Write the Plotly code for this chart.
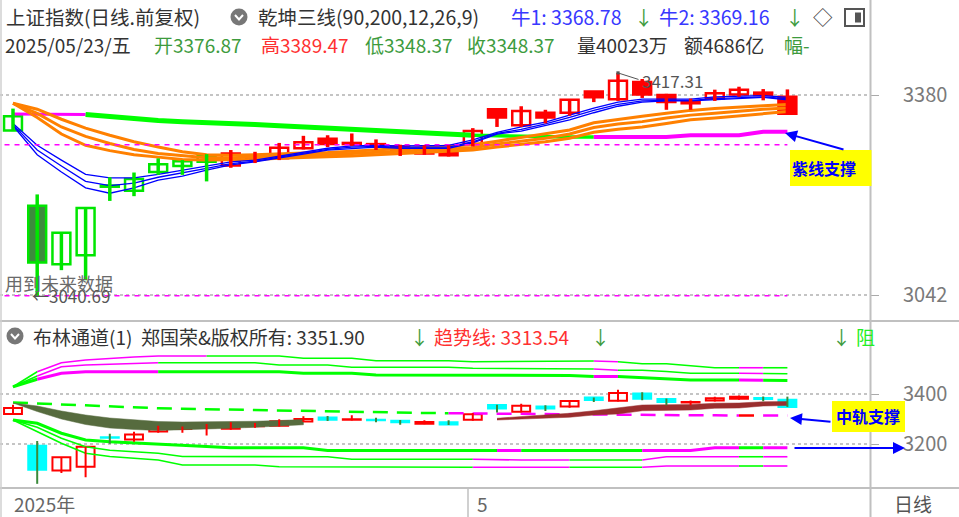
import plotly.graph_objects as go

# ---------------- data ----------------
dates = ["2025-04-03", "2025-04-07", "2025-04-08", "2025-04-09", "2025-04-10", "2025-04-11",
         "2025-04-14", "2025-04-15", "2025-04-16", "2025-04-17", "2025-04-18", "2025-04-21",
         "2025-04-22", "2025-04-23", "2025-04-24", "2025-04-25", "2025-04-28", "2025-04-29",
         "2025-04-30", "2025-05-06", "2025-05-07", "2025-05-08", "2025-05-09", "2025-05-12",
         "2025-05-13", "2025-05-14", "2025-05-15", "2025-05-16", "2025-05-19", "2025-05-20",
         "2025-05-21", "2025-05-22", "2025-05-23"]
open_p = [3320, 3193, 3094, 3109, 3227, 3218, 3250, 3260, 3267, 3261, 3271, 3273, 3290, 3306, 3297, 3297,
          3293, 3281, 3287, 3297, 3356, 3329, 3350, 3350, 3386, 3373, 3402, 3380, 3366, 3374, 3381, 3384, 3376.87]
high_p = [3357, 3212, 3148, 3189, 3241, 3249, 3273, 3270, 3280, 3287, 3284, 3299, 3311, 3312, 3315, 3305,
          3296, 3295, 3295, 3324, 3357, 3361, 3355, 3373, 3386, 3417.31, 3407, 3382, 3374, 3389, 3394, 3390, 3389.47]
low_p = [3319, 3040.69, 3084, 3067, 3201, 3209, 3245, 3245, 3234, 3257, 3265, 3270, 3288, 3292, 3294, 3287,
         3277, 3279, 3276, 3293, 3326, 3326, 3332, 3345, 3368, 3370, 3375, 3355, 3355, 3370, 3377, 3371, 3348.37]
close_p = [3344, 3097, 3147, 3189, 3225, 3238, 3263, 3268, 3277, 3281, 3277, 3291, 3300, 3297, 3299, 3295,
           3287, 3288, 3278, 3319, 3342, 3353, 3342, 3372, 3376, 3404, 3381, 3368, 3368, 3383, 3389, 3380, 3348.37]

# 乾坤三线 (top panel)
long_line = [3348, 3348, 3348, 3347, 3343, 3339, 3337, 3335, 3334, 3332, 3330, 3328, 3326, 3324, 3322, 3320,
             3318, 3316, 3314, 3312, 3311, 3310, 3310, 3309, 3309, 3309, 3309, 3309, 3312, 3312, 3312, 3318, 3318]
orange_1 = [3366, 3356, 3339, 3324, 3312, 3301, 3292, 3284, 3279, 3278, 3279, 3281, 3282, 3283, 3285, 3287,
            3289, 3291, 3293, 3296, 3302, 3308, 3314, 3321, 3333, 3339, 3344, 3349, 3354, 3357, 3360, 3362, 3364]
orange_2 = [3366, 3349, 3326, 3310, 3298, 3288, 3281, 3277, 3274, 3274, 3275, 3277, 3278, 3279, 3281, 3283,
            3285, 3287, 3289, 3291, 3297, 3302, 3307, 3314, 3325, 3331, 3335, 3341, 3346, 3349, 3353, 3356, 3358]
orange_3 = [3366, 3342, 3314, 3295, 3286, 3279, 3275, 3271, 3270, 3270, 3271, 3273, 3274, 3275, 3277, 3279,
            3281, 3283, 3285, 3287, 3292, 3296, 3301, 3307, 3317, 3322, 3326, 3332, 3338, 3341, 3345, 3349, 3352]
blue_1 = [3332, 3295, 3270, 3246, 3240, 3240, 3246, 3253, 3260, 3267, 3270, 3277, 3284, 3290, 3294, 3295,
          3294, 3294, 3295, 3304, 3317, 3326, 3334, 3346, 3358, 3368, 3373, 3373, 3373, 3377, 3378, 3379, 3376]
blue_2 = [3330, 3287, 3260, 3234, 3227, 3231, 3241, 3248, 3256, 3264, 3268, 3275, 3282, 3288, 3292, 3293,
          3292, 3292, 3292, 3301, 3315, 3322, 3331, 3342, 3354, 3364, 3370, 3371, 3371, 3374, 3376, 3377, 3374]
blue_3 = [3328, 3279, 3250, 3223, 3214, 3223, 3236, 3243, 3253, 3262, 3267, 3273, 3280, 3287, 3290, 3292,
          3290, 3290, 3290, 3299, 3314, 3319, 3328, 3338, 3350, 3361, 3368, 3370, 3370, 3372, 3375, 3376, 3372]
support_levels = [3296.0, 3040.69]

# 布林通道 (bottom panel)
boll_up1 = [3429, 3489, 3525, 3536, 3543, 3548, 3552, 3552, 3552, 3552, 3552, 3552, 3543, 3543, 3543, 3533,
            3533, 3533, 3533, 3529, 3529, 3529, 3529, 3529, 3532, 3529, 3521, 3521, 3512, 3505, 3505, 3505, 3505]
boll_up2 = [3429, 3472, 3509, 3516, 3520, 3523, 3525, 3525, 3525, 3525, 3525, 3516, 3516, 3516, 3507, 3507,
            3507, 3507, 3507, 3503, 3503, 3503, 3503, 3503, 3500, 3495, 3495, 3490, 3483, 3483, 3483, 3482, 3481]
boll_up3 = [3429, 3459, 3483, 3489, 3489, 3489, 3489, 3489, 3489, 3489, 3489, 3489, 3483, 3483, 3483, 3476,
            3476, 3476, 3476, 3476, 3474, 3474, 3474, 3474, 3470, 3470, 3466, 3462, 3456, 3456, 3456, 3455, 3454]
boll_dn1 = [3296, 3283, 3243, 3216, 3209, 3205, 3200, 3195, 3190, 3185, 3185, 3185, 3185, 3174, 3174, 3174,
            3174, 3174, 3174, 3174, 3174, 3174, 3174, 3174, 3174, 3174, 3174, 3174, 3174, 3185, 3185, 3185, 3185]
boll_dn2 = [3296, 3267, 3223, 3189, 3175, 3169, 3163, 3150, 3150, 3150, 3149, 3149, 3149, 3149, 3139, 3139,
            3139, 3139, 3139, 3139, 3136, 3136, 3136, 3136, 3136, 3136, 3136, 3149, 3149, 3149, 3149, 3149, 3149]
boll_dn3 = [3296, 3249, 3203, 3163, 3150, 3143, 3136, 3116, 3116, 3116, 3116, 3109, 3109, 3109, 3109, 3109,
            3107, 3107, 3107, 3107, 3107, 3107, 3107, 3107, 3107, 3107, 3107, 3112, 3112, 3112, 3112, 3112, 3112]
trend_line = [3366, 3362, 3357, 3352, 3349, 3346, 3343, 3341, 3339, 3338, 3337, 3335, 3333, 3331, 3329, 3327,
              3325, 3324, 3323, 3322, 3320, 3320, 3319, 3318, 3318, 3317, 3317, 3316, 3315, 3315, 3314, 3314, 3313.54]
band_hi = [3364, 3352, 3332, 3316, 3304, 3296, 3290, 3288, 3288, 3289, 3291, 3294, 3298,
           None, None, None, None, None, None, None,
           3303, 3309, 3316, 3323, 3333, 3343, 3356, 3357, 3358, 3363, 3364, 3369, 3370]
band_lo = [3364, 3330, 3300, 3278, 3264, 3258, 3254, 3255, 3259, 3263, 3267, 3271, 3277,
           None, None, None, None, None, None, None,
           3296, 3300, 3303, 3307, 3316, 3320, 3333, 3334, 3336, 3343, 3344, 3352, 3354]

price_ticks_top = [3042, 3380]
price_ticks_bottom = [3200, 3400]
date_tick_idx = [0, 19]
date_tick_text = ["2025年", "5"]

# ---------------- helpers ----------------
W, H = 959, 517
FONT = "Noto Sans CJK SC, Noto Sans, sans-serif"
N = len(dates)
idx = list(range(N))


def PX(x):
    return x / W


def PY(y):
    return 1 - y / H


GREEN_L = "#00ff00"
MAG = "#ff00ff"
ORANGE = "#ff8000"
BLUE = "#0000ff"
RED = "#ff0000"
CYAN = "#00ffff"

fig = go.Figure()


def seg_lines(ys, colors, widths, yaxis, dash=None):
    k = 0
    while k < N - 1:
        c, w = colors[k], widths[k]
        j = k
        while j + 1 < N - 1 and colors[j + 1] == c and widths[j + 1] == w:
            j += 1
        fig.add_trace(go.Scatter(x=idx[k:j + 2], y=ys[k:j + 2], mode="lines",
                                 line=dict(color=c, width=w, dash=dash),
                                 yaxis=yaxis, hoverinfo="skip", showlegend=False))
        k = j + 1


def candles(sel, yaxis, up_line, up_fill, dn_line, dn_fill, dn_wick, lw, wick_w, min_h):
    for is_up in (True, False):
        ii = [i for i in sel if (close_p[i] >= open_p[i]) == is_up]
        if not ii:
            continue
        wx, wy = [], []
        for i in ii:
            wx += [i, i, None]
            wy += [low_p[i], high_p[i], None]
        fig.add_trace(go.Scatter(x=wx, y=wy, mode="lines",
                                 line=dict(color=up_line if is_up else dn_wick, width=wick_w),
                                 yaxis=yaxis, hoverinfo="skip", showlegend=False))
        fig.add_trace(go.Bar(x=ii,
                             y=[max(abs(close_p[i] - open_p[i]), min_h) for i in ii],
                             base=[min(open_p[i], close_p[i]) for i in ii],
                             width=0.74, yaxis=yaxis,
                             marker=dict(color=up_fill if is_up else dn_fill,
                                         line=dict(color=up_line if is_up else dn_line, width=lw)),
                             hoverinfo="skip", showlegend=False))


# ---------------- top panel ----------------
long_cols = [MAG] * 3 + [GREEN_L] * 21 + [MAG] * 8
long_w = [3] * 3 + [5] * 16 + [3.5] * 5 + [4] * 8
seg_lines(long_line, long_cols, long_w, "y")
for ser in (orange_1, orange_2, orange_3):
    seg_lines(ser, [ORANGE] * (N - 1), [3] * (N - 1), "y")
for ser in (blue_1, blue_2, blue_3):
    seg_lines(ser, [BLUE] * (N - 1), [1.3] * (N - 1), "y")
for lvl in support_levels:
    fig.add_trace(go.Scatter(x=[-0.35, N - 1], y=[lvl, lvl], mode="lines",
                             line=dict(color=MAG, width=1.5, dash="5px,5px"),
                             yaxis="y", hoverinfo="skip", showlegend=False))

green_sel = idx[:9]
red_sel = idx[9:]
candles(green_sel, "y", "#00e600", "#ffffff", "#00e600", "#3d8b3d", "#00e600", 2.5, 3.5, 0.6)
candles(red_sel, "y", RED, "#ffffff", RED, RED, RED, 2.5, 3.5, 0.6)

# ---------------- bottom panel ----------------
up1_cols = [GREEN_L] + [MAG] * 7 + [GREEN_L] * 16 + [MAG] + [GREEN_L] * 5 + [MAG] + [GREEN_L]
up23_cols = [GREEN_L] + [MAG] * 5 + [GREEN_L] * 18 + [MAG] + [GREEN_L] * 5 + [MAG] + [GREEN_L]
seg_lines(boll_up1, up1_cols, [1.6] * (N - 1), "y2")
seg_lines(boll_up2, up23_cols, [1.6] * (N - 1), "y2")
seg_lines(boll_up3, up23_cols, [3] * (N - 1), "y2")
dn1_cols = [GREEN_L] * 20 + [MAG] + [GREEN_L] * 5 + [MAG] * 4 + [GREEN_L] + [MAG]
dn23_cols = [GREEN_L] * 19 + [MAG] * 4 + [GREEN_L] * 3 + [MAG] * 4 + [GREEN_L] + [MAG]
seg_lines(boll_dn1, dn1_cols, [3] * (N - 1), "y2")
seg_lines(boll_dn2, dn23_cols, [1.6] * (N - 1), "y2")
seg_lines(boll_dn3, dn23_cols, [1.6] * (N - 1), "y2")

trend_cols = [GREEN_L] * 18 + [MAG] * 12 + [RED] + [MAG]
seg_lines(trend_line, trend_cols, [2.5] * (N - 1), "y2", dash="15px,9px")

for a, b, col in ((0, 13, "#566b3e"), (20, 33, "#9a2e2e")):
    xs = idx[a:b] + idx[a:b][::-1]
    ys = band_hi[a:b] + band_lo[a:b][::-1]
    fig.add_trace(go.Scatter(x=xs, y=ys, mode="lines", fill="toself", fillcolor=col,
                             line=dict(width=0.5, color=col), yaxis="y2",
                             hoverinfo="skip", showlegend=False))

candles(idx, "y2", RED, "#ffffff", CYAN, CYAN, "#3a8a3a", 2, 2, 1.5)

# ---------------- layout ----------------
XDOM = 870 / W
x_lo = -13 / 24.2
x_hi = (870 - 13) / 24.2
axis_common = dict(side="right", anchor="x", ticks="outside", ticklen=8, tickcolor="#aaaaaa",
                   tickfont=dict(family=FONT, size=20, color="#7a7a7a"), showgrid=True,
                   gridcolor="#c4c4c4", griddash="dot", gridwidth=1.5, zeroline=False,
                   showline=False, automargin=False, ticklabelstandoff=20, fixedrange=True)
fig.update_layout(
    width=W, height=H, margin=dict(l=0, r=0, t=0, b=0), autosize=False,
    paper_bgcolor="white", plot_bgcolor="white", showlegend=False, barmode="overlay",
    hovermode=False,
    xaxis=dict(domain=[0, XDOM], range=[x_lo, x_hi], visible=False, fixedrange=True),
    yaxis=dict(domain=[PY(318), PY(55)], range=[3380 - (318 - 95) * 1.69, 3380 + (95 - 55) * 1.69],
               tickvals=price_ticks_top, ticktext=[str(v) for v in price_ticks_top], **axis_common),
    yaxis2=dict(domain=[PY(487), PY(322)], range=[3400 - (487 - 394) * 4, 3400 + (394 - 322) * 4],
                tickvals=price_ticks_bottom, ticktext=[str(v) for v in price_ticks_bottom], **axis_common),
)

shapes = []
GREY = "#c0c0c0"
shapes.append(dict(type="line", xref="paper", yref="paper", x0=0, x1=1, y0=PY(321), y1=PY(321),
                   line=dict(color=GREY, width=2)))
shapes.append(dict(type="line", xref="paper", yref="paper", x0=0, x1=1, y0=PY(488), y1=PY(488),
                   line=dict(color=GREY, width=2)))
shapes.append(dict(type="line", xref="paper", yref="paper", x0=PX(870.5), x1=PX(870.5), y0=0, y1=1,
                   line=dict(color=GREY, width=2)))
shapes.append(dict(type="line", xref="paper", yref="paper", x0=PX(1), x1=PX(1), y0=0, y1=1,
                   line=dict(color="#d0d0d0", width=1.5)))
shapes.append(dict(type="line", xref="paper", yref="paper", x0=PX(468), x1=PX(468), y0=0, y1=PY(488),
                   line=dict(color=GREY, width=1.5)))
# header icons
for cx, cy in ((239, 17), (15, 336)):
    shapes.append(dict(type="circle", xref="paper", yref="paper", x0=PX(cx - 8.5), x1=PX(cx + 8.5),
                       y0=PY(cy + 8.5), y1=PY(cy - 8.5), fillcolor="#777777", line=dict(width=0)))
    shapes.append(dict(type="path", xref="paper", yref="paper",
                       path=f"M {PX(cx-4)} {PY(cy-2)} L {PX(cx)} {PY(cy+2.5)} L {PX(cx+4)} {PY(cy-2)}",
                       line=dict(color="white", width=2)))
shapes.append(dict(type="rect", xref="paper", yref="paper", x0=PX(845), x1=PX(864), y0=PY(26), y1=PY(9),
                   line=dict(color="#555555", width=2), fillcolor="white"))
shapes.append(dict(type="rect", xref="paper", yref="paper", x0=PX(855), x1=PX(861), y0=PY(22.5), y1=PY(12.5),
                   line=dict(width=0), fillcolor="#555555"))
# yellow boxes
shapes.append(dict(type="rect", xref="paper", yref="paper", x0=PX(790), x1=PX(871.5), y0=PY(186), y1=PY(150),
                   fillcolor="#ffff00", line=dict(width=0)))
shapes.append(dict(type="rect", xref="paper", yref="paper", x0=PX(832), x1=PX(905), y0=PY(432), y1=PY(401),
                   fillcolor="#ffff00", line=dict(width=0)))
fig.update_layout(shapes=shapes)

ann = []


def txt(x, y, s, color, size=20, anchor="left", bold=False):
    ann.append(dict(x=PX(x), y=PY(y), xref="paper", yref="paper", text=(f"<b>{s}</b>" if bold else s),
                    showarrow=False, xanchor=anchor, yanchor="middle", borderpad=0,
                    font=dict(family=FONT, size=size, color=color)))


DARK = "#333333"
GR = "#3d9b3d"
BL = "#3838ff"
RD = "#ff3030"
row1 = [(5, "上证指数(日线.前复权)", DARK), (257, "乾坤三线(90,200,12,26,9)", DARK),
        (510, "牛1: 3368.78", BL), (633, "↓", GR), (658, "牛2: 3369.16", BL), (784, "↓", GR),
        (812, "◇", "#444444")]
row2 = [(4, "2025/05/23/五", DARK), (153, "开3376.87", GR), (260, "高3389.47", RD),
        (364, "低3348.37", GR), (466, "收3348.37", GR), (576, "量40023万", DARK),
        (683, "额4686亿", DARK), (783, "幅-", GR)]
for x, s, c in row1:
    txt(x, 16, s, c, size=19.5)
for x, s, c in row2:
    txt(x, 44, s, c, size=19)
row3 = [(32, "布林通道(1)  郑国荣&版权所有: 3351.90", DARK), (409, "↓", GR),
        (433, "趋势线: 3313.54", RD), (590, "↓", GR), (831, "↓", GR), (855, "阻", "#22ee22")]
for x, s, c in row3:
    txt(x, 336, s, c, size=19)

# price notes
txt(641, 80, "3417.31", "#555555", size=17)
ann.append(dict(x=25, y=high_p[25], xref="x", yref="y", ax=22, ay=7, text="", showarrow=True,
                arrowhead=7, arrowsize=0.8, arrowwidth=1, arrowcolor="#555555"))
txt(31, 295, "←3040.69", "#555555", size=17)
txt(4, 283, "用到未来数据", "#6a6a6a", size=18)

# yellow box texts + blue arrows
txt(824, 168, "紫线支撑", BLUE, size=16, anchor="center", bold=True)
txt(868, 416, "中轨支撑", BLUE, size=16, anchor="center", bold=True)
ann.append(dict(x=PX(785), y=PY(133), xref="paper", yref="paper", ax=60, ay=17, text="",
                showarrow=True, arrowhead=2, arrowsize=1.2, arrowwidth=2, arrowcolor=BLUE))
ann.append(dict(x=PX(790), y=PY(418), xref="paper", yref="paper", ax=42, ay=4, text="",
                showarrow=True, arrowhead=2, arrowsize=1.2, arrowwidth=2, arrowcolor=BLUE))
ann.append(dict(x=PX(905), y=PY(448), xref="paper", yref="paper", ax=-112, ay=0, text="",
                showarrow=True, arrowhead=2, arrowsize=1.2, arrowwidth=2, arrowcolor=BLUE))

# date axis labels
for i, s in zip(date_tick_idx, date_tick_text):
    ann.append(dict(x=i, y=PY(503), xref="x", yref="paper", text=s, showarrow=False,
                    xanchor="left", yanchor="middle", xshift=-1 if i == 0 else 2,
                    font=dict(family=FONT, size=19, color="#666666")))
txt(893, 503, "日线", "#555555", size=19)

fig.update_layout(annotations=ann)
fig.write_html("out.html", config={"displayModeBar": False, "staticPlot": True},
               post_script="document.body.style.margin='0';document.body.style.overflow='hidden';")
